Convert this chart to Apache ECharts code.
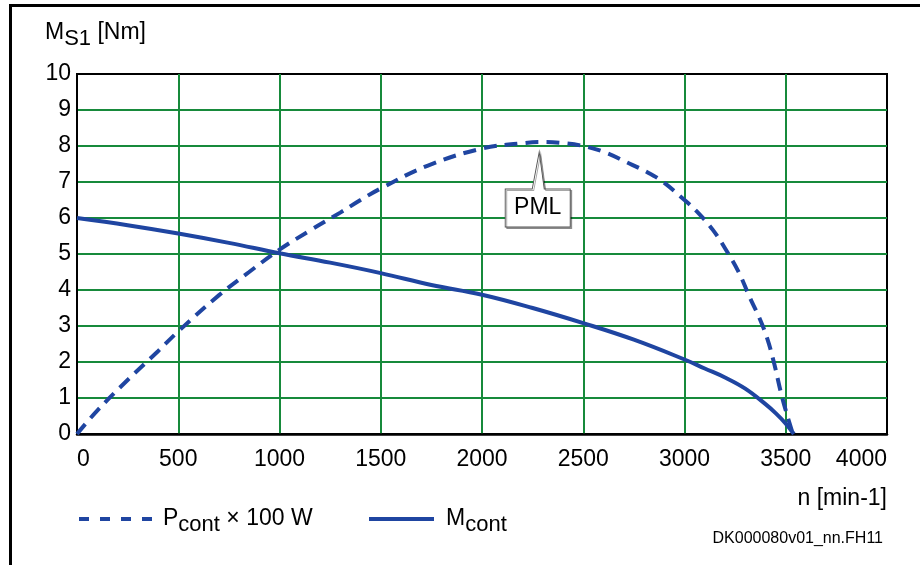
<!DOCTYPE html>
<html>
<head>
<meta charset="utf-8">
<script src="https://cdn.jsdelivr.net/npm/echarts@6/dist/echarts.min.js"></script>
<style>
  html, body { margin: 0; padding: 0; background: #fff; }
  #chart { width: 920px; height: 565px; }
</style>
</head>
<body>
<div id="chart"></div>
<script>
// Continuous power curve (P_cont, in units of 100 W) over speed n [min-1]
const speedP = [0, 100, 250, 400, 500, 700, 850, 1000, 1150, 1300, 1400, 1500, 1730, 2000, 2190, 2290, 2400, 2500, 2610, 2710, 2810, 2890, 3000, 3070, 3140, 3200, 3270, 3320, 3370, 3408, 3441, 3483, 3535];
const powerP = [0, 0.65, 1.5, 2.3, 2.85, 3.85, 4.5, 5.12, 5.65, 6.15, 6.5, 6.82, 7.45, 7.93, 8.07, 8.11, 8.08, 8.0, 7.82, 7.56, 7.29, 7.02, 6.5, 6.13, 5.67, 5.16, 4.47, 3.82, 3.22, 2.66, 2.0, 1.0, 0];

// Continuous torque curve (M_cont, Nm) over speed n [min-1]
const speedM = [0, 250, 500, 750, 1000, 1250, 1500, 1750, 2000, 2250, 2500, 2750, 3000, 3100, 3200, 3300, 3400, 3450, 3500, 3540];
const torqueM = [6.0, 5.8, 5.57, 5.31, 5.02, 4.76, 4.47, 4.14, 3.87, 3.5, 3.08, 2.62, 2.07, 1.82, 1.57, 1.26, 0.83, 0.58, 0.29, 0];

// Point of maximum power (PML)
const pmlSpeed = 2290;
const pmlPower = 8.11;

const FONT = '"Liberation Sans", Arial, Helvetica, sans-serif';
const BLUE = '#1f45a1';
const GREEN = '#178a3b';

const zip = (xs, ys) => xs.map((x, i) => [x, ys[i]]);

const richText = {
  m: { fontSize: 23, fontFamily: FONT, color: '#000', lineHeight: 26 },
  s: { fontSize: 22, fontFamily: FONT, color: '#000', lineHeight: 26, padding: [12, 0, 0, 0] },
  mp: { fontSize: 23, fontFamily: FONT, color: '#000', lineHeight: 26, padding: [0, 0, 0, 4] }
};

// legend icons: plain line, no marker dot
const noDot = { color: 'transparent', borderWidth: 0, opacity: 0 };

const chart = echarts.init(document.getElementById('chart'), null, { renderer: 'canvas' });

chart.setOption({
  animation: false,
  backgroundColor: '#fff',
  grid: {
    left: 77, top: 74, right: 33, bottom: 131,
    show: true, borderColor: '#000', borderWidth: 2, backgroundColor: 'transparent'
  },
  xAxis: {
    type: 'value', min: 0, max: 4000, interval: 500,
    axisLine: { show: true, lineStyle: { color: '#000', width: 2.5 } },
    axisTick: { show: false },
    axisLabel: {
      color: '#000', fontSize: 23, fontFamily: FONT, margin: 14,
      alignMinLabel: 'left', alignMaxLabel: 'right',
      formatter: v => String(v)
    },
    splitLine: { show: true, showMinLine: false, showMaxLine: false, lineStyle: { color: GREEN, width: 2 } }
  },
  yAxis: {
    type: 'value', min: 0, max: 10, interval: 1,
    axisLine: { show: true, lineStyle: { color: '#000', width: 2 } },
    axisTick: { show: false },
    axisLabel: { color: '#000', fontSize: 23, fontFamily: FONT, margin: 6 },
    splitLine: { show: true, showMinLine: false, showMaxLine: false, lineStyle: { color: GREEN, width: 2 } }
  },
  legend: [
    {
      data: ['Pcont'], left: 77, top: 502, itemWidth: 75, itemHeight: 10,
      selectedMode: false, padding: 0,
      lineStyle: { width: 4, type: [10, 11] },
      itemStyle: noDot,
      formatter: () => '{mp|P}{s|cont}{m| × 100 W}',
      textStyle: { rich: richText }
    },
    {
      data: ['Mcont'], left: 367, top: 502, itemWidth: 65, itemHeight: 10,
      selectedMode: false, padding: 0,
      lineStyle: { width: 4 },
      itemStyle: noDot,
      formatter: () => '{mp|M}{s|cont}',
      textStyle: { rich: Object.assign({}, richText, { mp: Object.assign({}, richText.mp, { padding: [0, 0, 0, 7] }) }) }
    }
  ],
  series: [
    {
      name: 'Pcont', type: 'line', data: zip(speedP, powerP),
      smooth: 0.4, showSymbol: false, symbol: 'none', silent: true,
      lineStyle: { color: BLUE, width: 4, type: [13, 8] },
      itemStyle: { color: BLUE },
      z: 3,
      markPoint: {
        silent: true,
        symbol: 'path://M34 0 L39 37 L65 37 L65 75 L0 75 L0 37 L27 37 Z',
        symbolSize: [65, 75],
        symbolOffset: [-3, 47.5],
        itemStyle: {
          color: '#fff', borderColor: '#555', borderWidth: 1,
          shadowColor: 'rgba(0,0,0,0.35)', shadowOffsetX: 1.5, shadowOffsetY: 1.5, shadowBlur: 0
        },
        label: {
          show: true, position: 'inside', offset: [0, 18.5],
          formatter: 'PML', color: '#000', fontSize: 23, fontFamily: FONT
        },
        emphasis: { disabled: true },
        data: [{ coord: [pmlSpeed, pmlPower] }]
      }
    },
    {
      name: 'Mcont', type: 'line', data: zip(speedM, torqueM),
      smooth: 0.4, showSymbol: false, symbol: 'none', silent: true,
      lineStyle: { color: BLUE, width: 4 },
      itemStyle: { color: BLUE },
      z: 2
    }
  ],
  graphic: [
    {
      type: 'polyline', silent: true,
      shape: { points: [[10.5, 565], [10.5, 5.5], [920, 5.5]] },
      style: { stroke: '#000', lineWidth: 3, fill: null }
    },
    {
      type: 'text', left: 45, top: 16, silent: true,
      style: { text: '{m|M}{s|S1}{m| [Nm]}', rich: richText }
    },
    {
      type: 'text', right: 33, top: 487, silent: true,
      style: { text: 'n [min-1]', font: '23px ' + FONT, fill: '#000' }
    },
    {
      type: 'text', right: 37, top: 531, silent: true,
      style: { text: 'DK000080v01_nn.FH11', font: '16px ' + FONT, fill: '#000' }
    }
  ]
});
</script>
</body>
</html>
